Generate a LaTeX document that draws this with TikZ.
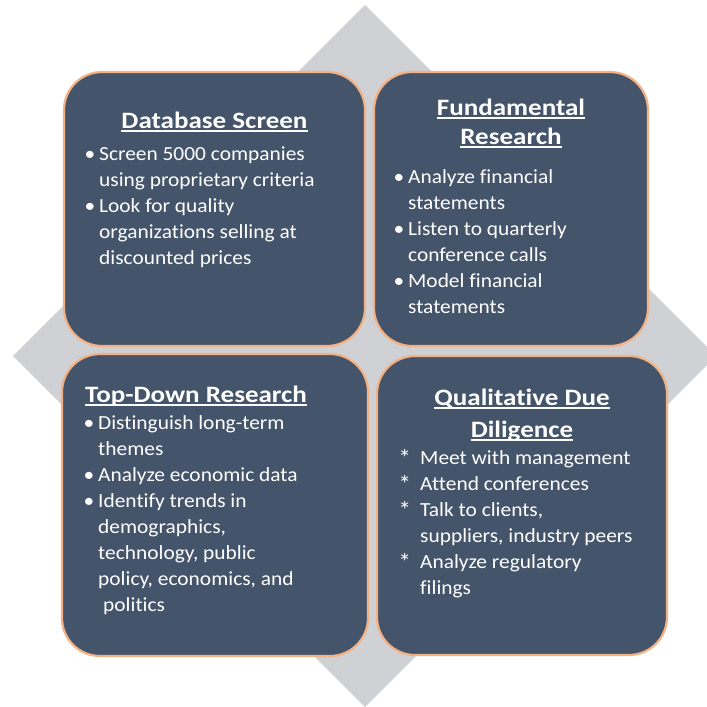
\documentclass[tikz,border=0pt]{standalone}
\usepackage{fontspec}
\setmainfont{Carlito}
\newfontfamily\bodyfont[FakeStretch=1.07,Ligatures=NoCommon]{Carlito}
\newfontfamily\headfont[FakeStretch=1.15,Ligatures=NoCommon]{Carlito}
\usepackage{tikz}
\definecolor{slateFill}{HTML}{44546A}
\definecolor{peachEdge}{HTML}{F4B183}
\definecolor{diamondGray}{RGB}{208,209,213}
\def\itm{\llap{\textbullet\hspace{4pt}}}
\def\staritm{\llap{\raisebox{-2pt}{\fontsize{24}{26}\selectfont*}\hspace{9pt}}}
\def\lines#1{\begin{tabular}[t]{@{}l@{}}#1\end{tabular}}
\def\cardhead[#1](#2)(#3)#4{\node[cardtitle,#1] (#2) at (#3) {#4};
	\draw[titlerule] ([yshift=-3pt]#2.base west) -- ([yshift=-3pt]#2.base east);}
\tikzset{
  card/.style={draw=peachEdge, line width=2.2pt, fill=slateFill, rounded corners=38pt, inner sep=0pt},
  cardtitle/.style={text=white, font=\headfont\bfseries\fontsize{23.5}{29}\selectfont, inner sep=0pt, anchor=base},
  titlerule/.style={white, line width=1.4pt},
  cardbody/.style={text=white, font=\bodyfont\fontsize{20}{26}\selectfont, inner sep=0pt, anchor=base west}
}

\begin{document}
\begin{tikzpicture}[x=1pt,y=-1pt]
			%%%%% START %%%%%
			\useasboundingbox (0,0) rectangle (707,707);
			
			\fill[diamondGray] (365,5) -- (716,356) -- (365,707) -- (13,356) -- cycle;
			
			\node[card, minimum width=301pt, minimum height=274pt] (ds) at (214.5,209) {};
			\node[card, minimum width=274pt, minimum height=274pt] (fr) at (511,209) {};
			\node[card, minimum width=306pt, minimum height=302pt] (td) at (215,505) {};
			\node[card, minimum width=290pt, minimum height=299pt] (qdd) at (522,505.5) {};
			
			% Database Screen
			\cardhead[](dsTitle)(214.5,128){Database Screen}
			\node[cardbody] (dsBody) at (99,160) {\lines{\itm Screen 5000 companies\\
				using proprietary criteria\\
				\itm Look for quality\\
				organizations selling at\\
				discounted prices}};
			
			% Fundamental Research
			\cardhead[](frTitleA)(511,115){Fundamental}
			\cardhead[](frTitleB)(511,144){Research}
			\node[cardbody] (frBody) at (408,183) {\lines{\itm Analyze financial\\
				statements\\
				\itm Listen to quarterly\\
				conference calls\\
				\itm Model financial\\
				statements}};
			
			% Top-Down Research
			\cardhead[anchor=base west](tdTitle)(85,402){Top-Down Research}
			\node[cardbody] (tdBody) at (98,429) {\lines{\itm Distinguish long-term\\
				themes\\
				\itm Analyze economic data\\
				\itm Identify trends in\\
				demographics,\\
				technology, public\\
				policy, economics, and\\
				\hspace{5pt}politics}};
			
			% Qualitative Due Diligence
			\cardhead[](qddTitleA)(522,405){Qualitative Due}
			\cardhead[](qddTitleB)(522,437){Diligence}
			\node[cardbody] (qddBody) at (420,464) {\lines{\staritm Meet with management\\
				\staritm Attend conferences\\
				\staritm Talk to clients,\\
				suppliers, industry peers\\
				\staritm Analyze regulatory\\
				filings}};
			
			%%%%% END %%%%%
		\end{tikzpicture}
\end{document}
